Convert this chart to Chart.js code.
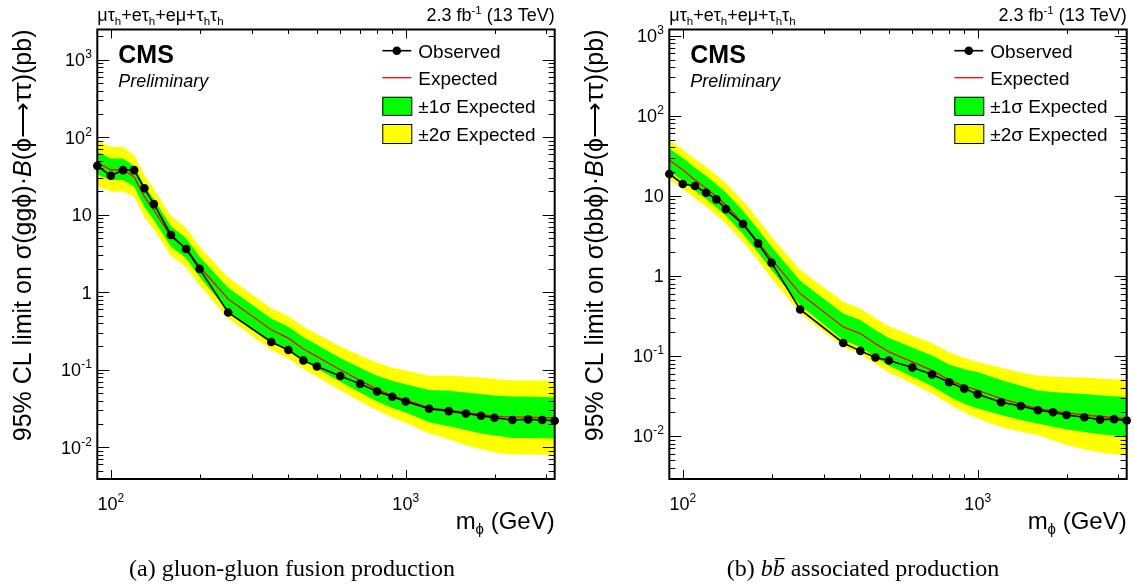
<!DOCTYPE html>
<html>
<head>
<meta charset="utf-8">
<script src="https://cdn.jsdelivr.net/npm/chart.js@4.4.0/dist/chart.umd.min.js"></script>
<style>
body { margin: 0; background: #fff; }
#wrap { position: relative; width: 1134px; height: 587px; }
canvas { position: absolute; top: 0; }
</style>
</head>
<body>
<div id="wrap">
  <canvas id="chartGG" width="567" height="587" style="left:0px"></canvas>
  <canvas id="chartBB" width="567" height="587" style="left:567px"></canvas>
</div>
<script>
// mass points (GeV)
const masses = [90,100,110,120,130,140,160,180,200,250,350,400,450,500,600,700,800,900,1000,1200,1400,1600,1800,2000,2300,2600,2900,3200];

// (a) gluon-gluon fusion, limits in pb
const ggObserved = [42.7,31.8,37.6,37.6,21.9,13.7,5.48,3.62,2.0,0.548,0.228,0.18,0.132,0.11,0.083,0.0658,0.0525,0.0448,0.039,0.0314,0.0293,0.0273,0.0255,0.024,0.0225,0.0229,0.0225,0.022];
const ggExpected = [47,38,38,30.8,17.1,11.5,5.2,3.7,2.14,0.82,0.328,0.256,0.185,0.148,0.1,0.073,0.056,0.0465,0.0408,0.0323,0.0302,0.0279,0.0265,0.0253,0.0245,0.0245,0.0242,0.024];
const ggMinus2 = [23.5,20,20,17,9.4,6.4,2.95,2.1,1.24,0.46,0.18,0.14,0.102,0.081,0.054,0.039,0.03,0.0242,0.0208,0.0152,0.0127,0.0106,0.0095,0.0086,0.0081,0.0081,0.008,0.0079];
const ggMinus1 = [33,28,28,23,12.7,8.5,3.85,2.75,1.59,0.57,0.232,0.18,0.131,0.104,0.07,0.051,0.039,0.0321,0.0282,0.021,0.0187,0.0167,0.0151,0.0142,0.0132,0.0132,0.0131,0.013];
const ggPlus1 = [65,53,53,42.5,23.6,15.8,7.1,5.0,2.9,1.14,0.46,0.36,0.263,0.21,0.142,0.106,0.084,0.072,0.065,0.055,0.0538,0.0508,0.0488,0.0466,0.0451,0.0451,0.0445,0.0442];
const ggPlus2 = [91,75,75,59,32.5,21.5,9.6,6.8,3.85,1.55,0.62,0.49,0.36,0.29,0.2,0.153,0.123,0.107,0.098,0.084,0.0846,0.081,0.0795,0.0759,0.0735,0.0735,0.0726,0.072];

// (b) b-associated production, limits in pb
const bbObserved = [18.7,14.0,13.2,10.9,9.0,6.8,4.43,2.54,1.45,0.38,0.145,0.1155,0.0953,0.0875,0.0715,0.0584,0.0469,0.039,0.0332,0.0264,0.0237,0.0209,0.0198,0.0183,0.0171,0.016,0.0162,0.0156];
const bbExpected = [27.9,21,15.7,12.4,9.7,7.65,4.52,2.65,1.6,0.6,0.23,0.19,0.142,0.112,0.084,0.066,0.0497,0.0418,0.0372,0.0293,0.0249,0.022,0.0205,0.0194,0.0183,0.0175,0.017,0.0165];
const bbMinus2 = [16,12.2,9.2,7.3,5.7,4.5,2.65,1.55,0.93,0.34,0.13,0.106,0.079,0.062,0.045,0.034,0.025,0.0197,0.0165,0.0128,0.0113,0.0102,0.0088,0.0077,0.0068,0.0062,0.0059,0.0057];
const bbMinus1 = [20.5,15.3,11.5,9.1,7.1,5.6,3.33,1.96,1.18,0.43,0.157,0.129,0.096,0.075,0.055,0.042,0.031,0.0253,0.022,0.0182,0.0158,0.0143,0.013,0.0121,0.0112,0.0105,0.0101,0.0097];
const bbPlus1 = [39,29.6,22.3,17.7,13.9,11.0,6.5,3.8,2.3,0.87,0.338,0.28,0.21,0.167,0.127,0.101,0.078,0.068,0.063,0.05,0.0423,0.037,0.0355,0.0345,0.0335,0.0322,0.0314,0.0307];
const bbPlus2 = [49.5,38,28.8,23,18.2,14.4,8.6,5.1,3.07,1.18,0.473,0.39,0.295,0.235,0.18,0.144,0.111,0.094,0.084,0.071,0.062,0.057,0.055,0.054,0.0535,0.052,0.0512,0.0506];

const xRange = [90, 3200];
const ggYRange = [0.0039, 2450];
const bbYRange = [0.0029, 1190];
const xMajorTicks = [100, 1000];
const xMinorTicks = [200,300,400,500,600,700,800,900,2000,3000];
const yDecades = [-2,-1,0,1,2,3];
const legendLabels = ["Observed", "Expected", "\u00b11\u03c3 Expected", "\u00b12\u03c3 Expected"];

const SANS = "'Liberation Sans', Arial, Helvetica, sans-serif";
const SERIF = "'Liberation Serif', 'Times New Roman', serif";
const PHI = "\u03d5";

function font(size, style) {
  return (style ? style + " " : "") + size + "px " + SANS;
}

function pts(vals) {
  return masses.map((m, i) => ({x: m, y: vals[i]}));
}

// draws a list of text pieces one after the other, returns total width
function richWidth(ctx, parts) {
  let w = 0;
  parts.forEach(p => { ctx.font = p.font; w += ctx.measureText(p.t).width; });
  return w;
}
function drawRich(ctx, parts, x, y) {
  let cx = x;
  parts.forEach(p => {
    ctx.font = p.font;
    ctx.fillText(p.t, cx, y + (p.dy || 0));
    const w = ctx.measureText(p.t).width;
    if (p.bar) {
      ctx.fillRect(cx + w * 0.2, y - p.bar, w * 0.8, 1.2);
    }
    cx += w;
  });
  return cx - x;
}

function powParts(e) {
  if (e == 0) return [{t: "1", font: font(18)}];
  if (e == 1) return [{t: "10", font: font(18)}];
  return [{t: "10", font: font(18)}, {t: String(e), font: font(12), dy: -8}];
}

function makeDecor(panel) {
  return {
    id: "decor_" + panel.name,
    afterDraw(chart) {
      const ctx = chart.ctx;
      const a = chart.chartArea;
      const xs = chart.scales.x, ys = chart.scales.y;
      ctx.save();
      ctx.fillStyle = "#000";
      ctx.strokeStyle = "#000";
      ctx.textBaseline = "alphabetic";
      ctx.textAlign = "left";

      // ticks on all four sides, pointing inside
      ctx.lineWidth = 1;
      ctx.beginPath();
      xMajorTicks.concat(xMinorTicks).forEach(v => {
        const len = xMajorTicks.includes(v) ? 9 : 4.5;
        const px = Math.round(xs.getPixelForValue(v)) + 0.5;
        ctx.moveTo(px, a.bottom); ctx.lineTo(px, a.bottom - len);
        ctx.moveTo(px, a.top); ctx.lineTo(px, a.top + len);
      });
      for (let d = -3; d <= 3; d++) {
        for (let k = 1; k <= 9; k++) {
          const v = k * Math.pow(10, d);
          if (v < panel.yRange[0] || v > panel.yRange[1]) continue;
          const len = k == 1 ? 12 : 6;
          const py = Math.round(ys.getPixelForValue(v)) + 0.5;
          ctx.moveTo(a.left, py); ctx.lineTo(a.left + len, py);
          ctx.moveTo(a.right, py); ctx.lineTo(a.right - len, py);
        }
      }
      ctx.stroke();

      // frame
      ctx.lineWidth = 2;
      ctx.strokeRect(a.left, a.top, a.right - a.left, a.bottom - a.top);

      // y tick labels
      yDecades.forEach(e => {
        const py = ys.getPixelForValue(Math.pow(10, e));
        const parts = powParts(e);
        const w = richWidth(ctx, parts);
        drawRich(ctx, parts, a.left - 5.5 - w, py + 6.5);
      });
      // x tick labels
      xMajorTicks.forEach(v => {
        const px = xs.getPixelForValue(v);
        const parts = powParts(Math.round(Math.log10(v)));
        const w = richWidth(ctx, parts);
        drawRich(ctx, parts, px - w / 2, 510);
      });

      // x axis title
      const xt = [{t: "m", font: font(24)}, {t: PHI, font: font(15), dy: 5}, {t: " (GeV)", font: font(24)}];
      drawRich(ctx, xt, a.right - richWidth(ctx, xt), 529);

      // y axis title, rotated, ending at top of frame
      const yw = richWidth(ctx, panel.yTitle);
      ctx.save();
      ctx.translate(a.left - 66, a.top + yw);
      ctx.rotate(-Math.PI / 2);
      drawRich(ctx, panel.yTitle, 0, 0);
      ctx.restore();

      // header texts
      const sub = font(11.5);
      const h = font(18);
      drawRich(ctx, [
        {t: "\u03bc\u03c4", font: h}, {t: "h", font: sub, dy: 4},
        {t: "+e\u03c4", font: h}, {t: "h", font: sub, dy: 4},
        {t: "+e\u03bc+\u03c4", font: h}, {t: "h", font: sub, dy: 4},
        {t: "\u03c4", font: h}, {t: "h", font: sub, dy: 4}
      ], a.left, 21);
      const lumi = [{t: "2.3 fb", font: h}, {t: "-1", font: sub, dy: -7}, {t: " (13 TeV)", font: h}];
      drawRich(ctx, lumi, a.right - richWidth(ctx, lumi), 21);

      // CMS label
      ctx.font = font(25, "bold");
      ctx.fillText("CMS", a.left + 21, 62.5);
      ctx.font = font(18, "italic");
      ctx.fillText("Preliminary", a.left + 21, 87);

      // legend
      const lx = a.left + 285, lw = 29, tx = a.left + 321;
      const rows = [50.7, 77.7, 105.8, 133.5];
      ctx.lineWidth = 1.6;
      ctx.strokeStyle = "#000";
      ctx.beginPath(); ctx.moveTo(lx, rows[0]); ctx.lineTo(lx + lw, rows[0]); ctx.stroke();
      ctx.beginPath(); ctx.arc(lx + lw / 2, rows[0], 4.3, 0, Math.PI * 2); ctx.fill();
      ctx.strokeStyle = "#ff0000"; ctx.lineWidth = 1.3;
      ctx.beginPath(); ctx.moveTo(lx, rows[1]); ctx.lineTo(lx + lw, rows[1]); ctx.stroke();
      ctx.strokeStyle = "#000"; ctx.lineWidth = 1;
      ctx.fillStyle = "#00ff00"; ctx.fillRect(lx, rows[2] - 9, lw, 18);
      ctx.strokeRect(lx + 0.5, rows[2] - 9 + 0.5, lw, 18);
      ctx.fillStyle = "#ffff00"; ctx.fillRect(lx, rows[3] - 9.5, lw, 19);
      ctx.strokeRect(lx + 0.5, rows[3] - 9.5 + 0.5, lw, 19);
      ctx.fillStyle = "#000";
      ctx.font = font(19);
      legendLabels.forEach((s, i) => ctx.fillText(s, tx, rows[i] + 7));

      // caption under the panel
      const cw = richWidth(ctx, panel.caption);
      drawRich(ctx, panel.caption, panel.captionX - cw / 2, 576);

      ctx.restore();
    }
  };
}

function bandDatasets(obs, exp, m2, m1, p1, p2) {
  const none = "rgba(0,0,0,0)";
  return [
    {data: pts(m2), borderColor: none, borderWidth: 0, pointRadius: 0, fill: false, order: 4},
    {data: pts(p2), borderColor: none, borderWidth: 0, pointRadius: 0, fill: 0, backgroundColor: "#ffff00", order: 4},
    {data: pts(m1), borderColor: none, borderWidth: 0, pointRadius: 0, fill: false, order: 3},
    {data: pts(p1), borderColor: none, borderWidth: 0, pointRadius: 0, fill: 2, backgroundColor: "#00ff00", order: 3},
    {data: pts(exp), borderColor: "#ff0000", borderWidth: 1.3, pointRadius: 0, fill: false, order: 2},
    {data: pts(obs), borderColor: "#000000", borderWidth: 1.6, pointRadius: 4.3,
      pointBackgroundColor: "#000000", pointBorderColor: "#000000", pointBorderWidth: 0, fill: false, order: 1, clip: false}
  ];
}

function makeChart(id, panel, datasets) {
  return new Chart(document.getElementById(id), {
    type: "line",
    data: {datasets: datasets},
    options: {
      responsive: false,
      animation: false,
      events: [],
      layout: {padding: panel.padding},
      elements: {line: {tension: 0}},
      plugins: {legend: {display: false}, tooltip: {enabled: false}},
      scales: {
        x: {type: "logarithmic", min: xRange[0], max: xRange[1], display: false},
        y: {type: "logarithmic", min: panel.yRange[0], max: panel.yRange[1], display: false}
      }
    },
    plugins: [makeDecor(panel)]
  });
}

const t = font(25);
const ti = font(25, "italic");
const ARROW = "\u27f6";
const cap = "24px " + SERIF;
const capI = "italic 24px " + SERIF;

makeChart("chartGG", {
  name: "gg",
  yRange: ggYRange,
  padding: {left: 97.3, right: 12.3, top: 29.5, bottom: 108},
  yTitle: [{t: "95% CL limit on \u03c3(gg" + PHI + ")\u00b7", font: t}, {t: "B", font: ti}, {t: "(" + PHI + ARROW + "\u03c4\u03c4)(pb)", font: t}],
  caption: [{t: "(a) gluon-gluon fusion production", font: cap}],
  captionX: 292
}, bandDatasets(ggObserved, ggExpected, ggMinus2, ggMinus1, ggPlus1, ggPlus2));

makeChart("chartBB", {
  name: "bb",
  yRange: bbYRange,
  padding: {left: 102.3, right: 7.3, top: 29.5, bottom: 108},
  yTitle: [{t: "95% CL limit on \u03c3(bb" + PHI + ")\u00b7", font: t}, {t: "B", font: ti}, {t: "(" + PHI + ARROW + "\u03c4\u03c4)(pb)", font: t}],
  caption: [{t: "(b) ", font: cap}, {t: "b", font: capI},
    {t: "b", font: capI, bar: 18}, {t: " associated production", font: cap}],
  captionX: 296
}, bandDatasets(bbObserved, bbExpected, bbMinus2, bbMinus1, bbPlus1, bbPlus2));
</script>
</body>
</html>
